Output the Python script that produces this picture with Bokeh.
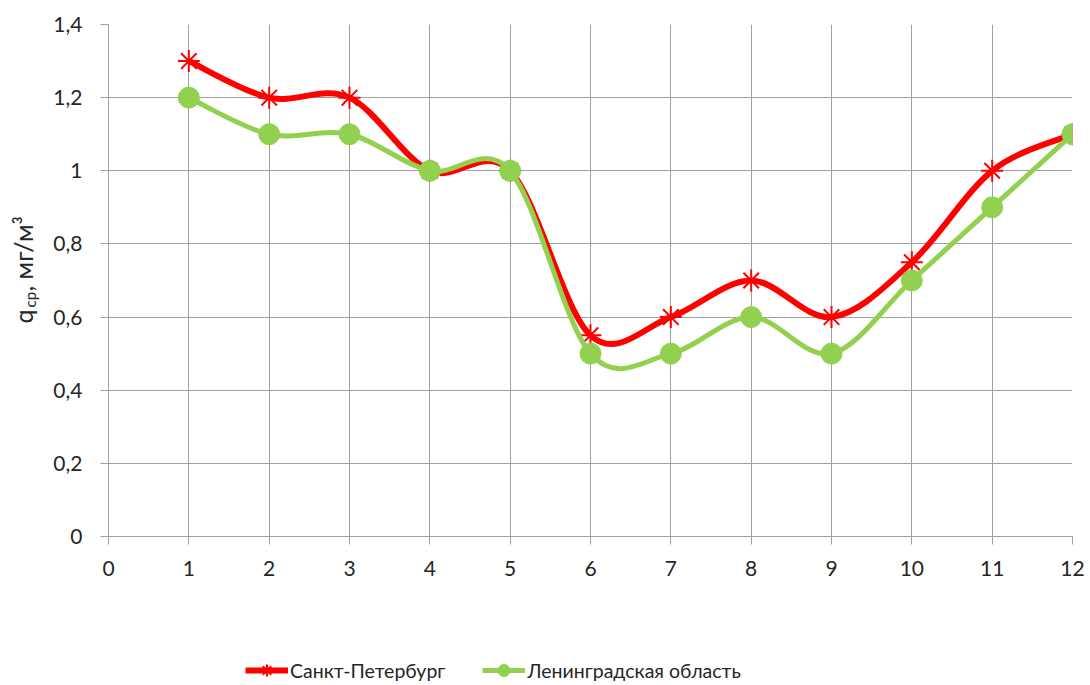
import math
from bokeh.plotting import figure
from bokeh.layouts import row, column
from bokeh.models import (FixedTicker, CustomJSTickFormatter, Legend, LegendItem,
                          Label, Range1d)
from bokeh.embed import file_html
from bokeh.resources import INLINE

# ---- data ----
months = [1, 2, 3, 4, 5, 6, 7, 8, 9, 10, 11, 12]
spb = [1.3, 1.2, 1.2, 1.0, 1.0, 0.55, 0.6, 0.7, 0.6, 0.75, 1.0, 1.1]
lo = [1.2, 1.1, 1.1, 1.0, 1.0, 0.5, 0.5, 0.6, 0.5, 0.7, 0.9, 1.1]
series_names = ["Санкт-Петербург", "Ленинградская область"]
x_ticks = [0, 1, 2, 3, 4, 5, 6, 7, 8, 9, 10, 11, 12]
y_ticks = [0, 0.2, 0.4, 0.6, 0.8, 1.0, 1.2, 1.4]

FONT = "Lato"
TXT = "#262626"
GRID = "#A0A0A0"
RED = "#FF0000"
GREEN = "#92D050"

FRAME_L, FRAME_R, FRAME_T, FRAME_B = 108, 1072, 24, 536
LW = 50          # width of the strip holding the y-axis title
W = 1036         # width of the main chart
H = 590          # height of the main chart
HB = 95          # height of the legend strip


def bezier_segments(xs, ys, t=1.0 / 6.0):
    n = len(xs)
    d = dict(x0=[], y0=[], x1=[], y1=[], cx0=[], cy0=[], cx1=[], cy1=[])
    for i in range(n - 1):
        xp, yp = (xs[i - 1], ys[i - 1]) if i > 0 else (xs[i], ys[i])
        xn, yn = (xs[i + 2], ys[i + 2]) if i + 2 < n else (xs[i + 1], ys[i + 1])
        d["x0"].append(xs[i]); d["y0"].append(ys[i])
        d["x1"].append(xs[i + 1]); d["y1"].append(ys[i + 1])
        d["cx0"].append(xs[i] + (xs[i + 1] - xp) * t)
        d["cy0"].append(ys[i] + (ys[i + 1] - yp) * t)
        d["cx1"].append(xs[i + 1] - (xn - xs[i]) * t)
        d["cy1"].append(ys[i + 1] - (yn - ys[i]) * t)
    return d


def blank(width, height, xr=(0, 1), yr=(0, 1)):
    f = figure(width=width, height=height, output_backend="svg",
               toolbar_location=None, x_range=Range1d(*xr), y_range=Range1d(*yr),
               x_axis_location=None, y_axis_location=None, min_border=0)
    f.outline_line_color = None
    f.grid.visible = False
    return f


# ---- narrow strip holding the y-axis title  q_ср, мг/м³ ----
pl = blank(LW, H)
lbl_common = dict(x_units="screen", y_units="screen", angle=math.pi / 2,
                  text_font=FONT, text_color=TXT, text_align="left",
                  text_baseline="middle")
pl.add_layout(Label(x=22, y=FRAME_B - 323, text="q", text_font_size="25px", **lbl_common))
pl.add_layout(Label(x=29, y=FRAME_B - 307, text="ср", text_font_size="15px", **lbl_common))
pl.add_layout(Label(x=22, y=FRAME_B - 291, text=", мг/м³", text_font_size="25px",
                    **lbl_common))

# ---- main chart ----
p = figure(width=W, height=H, output_backend="svg", toolbar_location=None,
           x_range=Range1d(0, 12), y_range=Range1d(0, 1.4),
           min_border_left=FRAME_L - LW, min_border_right=LW + W - FRAME_R,
           min_border_top=FRAME_T, min_border_bottom=H - FRAME_B)
p.outline_line_color = None

for ax, tks in ((p.xaxis[0], x_ticks), (p.yaxis[0], y_ticks)):
    ax.ticker = FixedTicker(ticks=tks)
    ax.axis_line_color = GRID
    ax.major_tick_line_color = GRID
    ax.major_tick_out = 8
    ax.major_tick_in = 0
    ax.minor_tick_line_color = None
    ax.major_label_text_font = FONT
    ax.major_label_text_font_size = "21px"
    ax.major_label_text_color = TXT
p.yaxis[0].formatter = CustomJSTickFormatter(
    code="return (Math.round(tick*10)/10).toString().replace('.', ',');")
p.xaxis[0].major_label_standoff = 16
p.yaxis[0].major_label_standoff = 18

p.xgrid.ticker = FixedTicker(ticks=x_ticks)
p.ygrid.ticker = FixedTicker(ticks=y_ticks)
p.xgrid.grid_line_color = GRID
p.ygrid.grid_line_color = GRID

d_red = bezier_segments(months, spb)
d_grn = bezier_segments(months, lo)

p.bezier(source=d_red, x0="x0", y0="y0", x1="x1", y1="y1",
         cx0="cx0", cy0="cy0", cx1="cx1", cy1="cy1",
         line_color=RED, line_width=6)
p.scatter(months, spb, marker="asterisk", size=22, line_color=RED, line_width=2)
p.bezier(source=d_grn, x0="x0", y0="y0", x1="x1", y1="y1",
         cx0="cx0", cy0="cy0", cx1="cx1", cy1="cy1",
         line_color=GREEN, line_width=5)
p.scatter(months, lo, marker="circle", size=21, fill_color=GREEN, line_color=GREEN)

# ---- legend strip (series drawn off-view so that only their keys show) ----
pb = blank(W + LW, HB, xr=(100, 101), yr=(100, 101))
kr_l = pb.line(months, spb, line_color=RED, line_width=6)
kr_m = pb.scatter(months, spb, marker="asterisk", size=22, line_color=RED, line_width=2)
kg_l = pb.line(months, lo, line_color=GREEN, line_width=5)
kg_m = pb.scatter(months, lo, marker="circle", size=21, fill_color=GREEN,
                  line_color=GREEN)
legend = Legend(items=[LegendItem(label=series_names[0], renderers=[kr_l, kr_m]),
                       LegendItem(label=series_names[1], renderers=[kg_l, kg_m])],
                orientation="horizontal", location=(245, 0),
                padding=0, margin=0, spacing=37, glyph_width=43, glyph_height=30,
                label_standoff=2, border_line_color=None,
                background_fill_alpha=0,
                label_text_font=FONT, label_text_font_size="19.5px",
                label_text_color=TXT)
pb.add_layout(legend)

layout = column(row(pl, p, spacing=0), pb, spacing=0)
open("out.html", "w").write(file_html(layout, INLINE))
